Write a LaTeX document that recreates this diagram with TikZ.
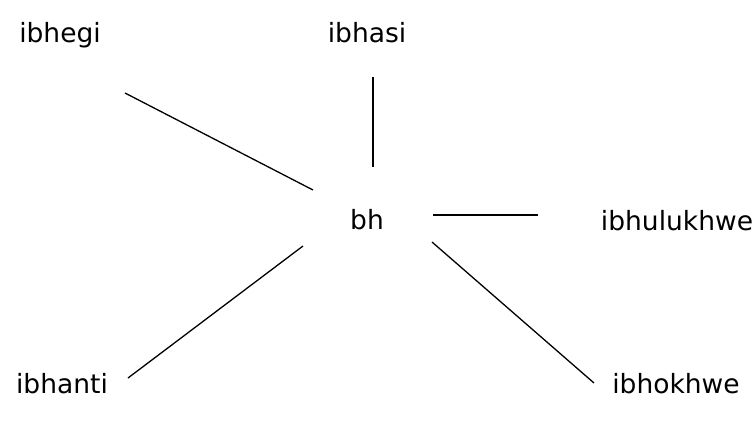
\documentclass[tikz,border=0pt]{standalone}
\usepackage{fontspec}
\setmainfont{DejaVu Sans}
\usepackage{tikz}
\usetikzlibrary{positioning,calc}

\begin{document}
\begin{tikzpicture}[x=1pt,y=1pt,
    word/.style={anchor=base, font=\fontsize{26.5}{31}\selectfont, inner sep=0pt},
    spoke/.style={draw=black, line width=1.3pt}]
    \useasboundingbox (0,0) rectangle (756,-421);
    % the letters and the words
    \node[word] (bh) at (367,-229) {bh};
    \node[word] (ibhegi) at (60,-42) {ibhegi};
    \node[word] (ibhasi) at (367,-42) {ibhasi};
    \node[word] (ibhulukhwe) at (677,-230) {ibhulukhwe};
    \node[word] (ibhanti) at (62,-393) {ibhanti};
    \node[word] (ibhokhwe) at (676,-393) {ibhokhwe};
    % spokes
    \draw[spoke] ([shift={(-54,39)}]bh.base) -- ([shift={(65,-51)}]ibhegi.base);
    \draw[spoke] ([shift={(6,62)}]bh.base) -- ([shift={(6,-35)}]ibhasi.base);
    \draw[spoke] ([shift={(66,14)}]bh.base) -- ([shift={(-139,15)}]ibhulukhwe.base);
    \draw[spoke] ([shift={(-64,-17)}]bh.base) -- ([shift={(66,15)}]ibhanti.base);
    \draw[spoke] ([shift={(65,-13)}]bh.base) -- ([shift={(-82,10)}]ibhokhwe.base);
\end{tikzpicture}
\end{document}
